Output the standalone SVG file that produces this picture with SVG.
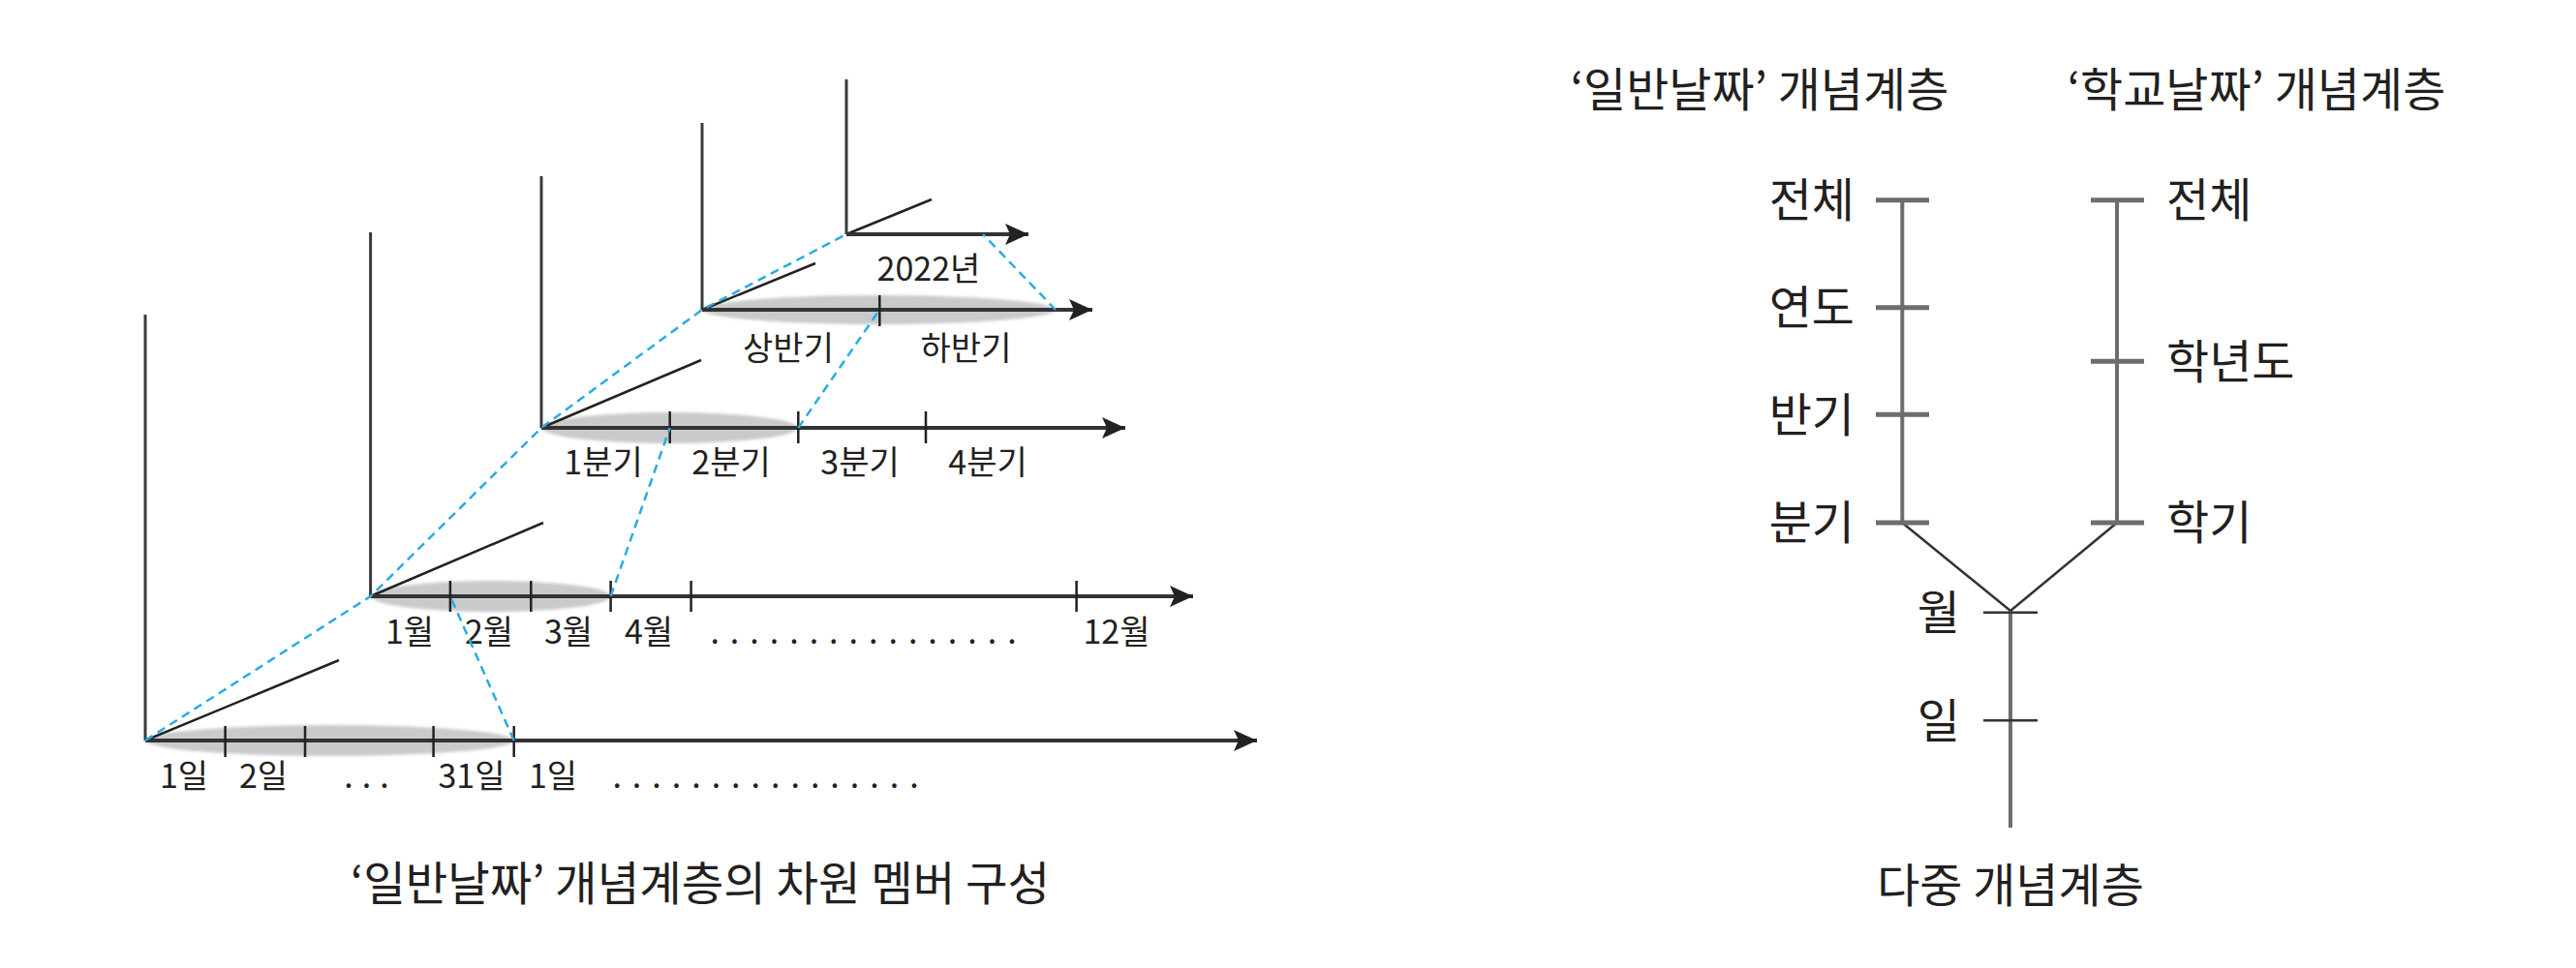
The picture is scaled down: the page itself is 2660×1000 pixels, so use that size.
<svg xmlns="http://www.w3.org/2000/svg" width="2660" height="1000" viewBox="0 0 2660 1000">
<defs>
<style>
.t{font-family:"Noto Sans CJK KR","Noto Sans",sans-serif;fill:#231f20}
.s{font-size:34px;text-anchor:middle}
.b{font-size:48px}
.vert{stroke:#3a3a3a;stroke-width:3;fill:none}
.axis{stroke:#333;stroke-width:4;fill:none}
.diag{stroke:#222;stroke-width:2.5;fill:none}
.tick{stroke:#222;stroke-width:2.5;fill:none}
.dash{stroke:#29abe2;stroke-width:2.5;stroke-dasharray:9 6;fill:none}
.ell{fill:#c9cacc;filter:url(#blur)}
.tv{stroke:#6d6d6d;stroke-width:4;fill:none}
.tt{stroke:#6d6d6d;stroke-width:5;fill:none}
.tb{stroke:#333;stroke-width:2.5;fill:none}
</style>
<filter id="blur" x="-10%" y="-50%" width="120%" height="200%"><feGaussianBlur stdDeviation="1.6"/></filter>
<marker id="arr" markerUnits="userSpaceOnUse" markerWidth="26" markerHeight="24" refX="24" refY="12" orient="auto"><path d="M0,1 L24,12 L0,23 L5,12 Z" fill="#222"/></marker>
</defs>

<g id="left-diagram">
<g id="ellipses">
<ellipse class="ell" cx="340.5" cy="765" rx="190.5" ry="16"/>
<ellipse class="ell" cx="507" cy="616" rx="124" ry="16"/>
<ellipse class="ell" cx="691.5" cy="442" rx="132.5" ry="16"/>
<ellipse class="ell" cx="907.5" cy="320" rx="182.5" ry="15"/>
</g>

<g id="level-day">
<line class="vert" x1="150" y1="325" x2="150" y2="765"/>
<line class="diag" x1="150" y1="765" x2="350" y2="682"/>
<line class="axis" x1="150" y1="765" x2="1298" y2="765" marker-end="url(#arr)"/>
<path class="tick" d="M232.6,750V782M315,750V782M447.6,750V782M530.7,750V782"/>
<text class="t s" x="190" y="814">1일</text>
<text class="t s" x="272" y="814">2일</text>
<text class="t s" x="383" y="814" letter-spacing="9">...</text>
<text class="t s" x="487" y="814">31일</text>
<text class="t s" x="571" y="814">1일</text>
<text class="t s" x="796" y="814" letter-spacing="11">................</text>
</g>

<g id="level-month">
<line class="vert" x1="382.6" y1="240" x2="382.6" y2="616"/>
<line class="diag" x1="382.6" y1="616" x2="561" y2="540"/>
<line class="axis" x1="382.6" y1="616" x2="1232" y2="616" marker-end="url(#arr)"/>
<path class="tick" d="M464.9,600V632M548.3,600V632M630.6,600V632M713.6,600V632M1111.6,600V632"/>
<text class="t s" x="423" y="665">1월</text>
<text class="t s" x="505" y="665">2월</text>
<text class="t s" x="587" y="665">3월</text>
<text class="t s" x="670" y="665">4월</text>
<text class="t s" x="897" y="665" letter-spacing="11">................</text>
<text class="t s" x="1153" y="665">12월</text>
</g>

<g id="level-quarter">
<line class="vert" x1="559" y1="182" x2="559" y2="442"/>
<line class="diag" x1="559" y1="442" x2="724" y2="372"/>
<line class="axis" x1="559" y1="442" x2="1162" y2="442" marker-end="url(#arr)"/>
<path class="tick" d="M691.7,425V458M824.3,425V458M956,425V458"/>
<text class="t s" x="623" y="490">1분기</text>
<text class="t s" x="755" y="490">2분기</text>
<text class="t s" x="888" y="490">3분기</text>
<text class="t s" x="1020" y="490">4분기</text>
</g>

<g id="level-half">
<line class="vert" x1="725" y1="127" x2="725" y2="320"/>
<line class="diag" x1="725" y1="320" x2="842" y2="272"/>
<line class="axis" x1="725" y1="320" x2="1128" y2="320" marker-end="url(#arr)"/>
<path class="tick" d="M908.3,305V337"/>
<text class="t s" x="814" y="372">상반기</text>
<text class="t s" x="997.5" y="372">하반기</text>
</g>

<g id="level-year">
<line class="vert" x1="874" y1="82" x2="874" y2="242"/>
<line class="diag" x1="874" y1="242" x2="962" y2="206"/>
<line class="axis" x1="874" y1="242" x2="1062" y2="242" marker-end="url(#arr)"/>
<text class="t s" x="959" y="290">2022년</text>
</g>

<g id="connectors-dashed">
<polyline class="dash" points="150,765 382.6,616 559,442 725,320 874,242"/>
<line class="dash" x1="530.7" y1="765" x2="464.9" y2="616"/>
<line class="dash" x1="630.6" y1="616" x2="691.7" y2="442"/>
<line class="dash" x1="824.3" y1="442" x2="908.3" y2="320"/>
<line class="dash" x1="1090" y1="320" x2="1015" y2="242"/>
</g>

<text id="caption-left" class="t b" x="723" y="930" text-anchor="middle" textLength="722" lengthAdjust="spacingAndGlyphs">‘일반날짜’ 개념계층의 차원 멤버 구성</text>
</g>

<g id="right-diagram">
<g id="connectors">
<line class="tv" x1="1964.3" y1="206.7" x2="1964.3" y2="540"/>
<line class="tv" x1="2186" y1="206.7" x2="2186" y2="540"/>
<line class="tb" x1="1964.3" y1="540" x2="2076" y2="631"/>
<line class="tb" x1="2186" y1="540" x2="2076" y2="631"/>
<line class="tv" x1="2076" y1="631" x2="2076" y2="855"/>
</g>
<g id="hier-general">
<text class="t b" x="1817" y="110" text-anchor="middle">‘일반날짜’ 개념계층</text>
<g id="g-all"><line class="tt" x1="1937" y1="206.7" x2="1992" y2="206.7"/><text class="t b" x="1915" y="224" text-anchor="end">전체</text></g>
<g id="g-year"><line class="tt" x1="1937" y1="317.7" x2="1992" y2="317.7"/><text class="t b" x="1915" y="335" text-anchor="end">연도</text></g>
<g id="g-half"><line class="tt" x1="1937" y1="428.3" x2="1992" y2="428.3"/><text class="t b" x="1915" y="446" text-anchor="end">반기</text></g>
<g id="g-quarter"><line class="tt" x1="1937" y1="540" x2="1992" y2="540"/><text class="t b" x="1915" y="557" text-anchor="end">분기</text></g>
</g>
<g id="hier-school">
<text class="t b" x="2330" y="110" text-anchor="middle">‘학교날짜’ 개념계층</text>
<g id="s-all"><line class="tt" x1="2159" y1="206.7" x2="2214" y2="206.7"/><text class="t b" x="2237" y="224">전체</text></g>
<g id="s-year"><line class="tt" x1="2159" y1="373.3" x2="2214" y2="373.3"/><text class="t b" x="2237" y="391">학년도</text></g>
<g id="s-term"><line class="tt" x1="2159" y1="540" x2="2214" y2="540"/><text class="t b" x="2237" y="557">학기</text></g>
</g>
<g id="common">
<g id="c-month"><line class="tb" x1="2048" y1="632.7" x2="2104" y2="632.7"/><text class="t b" x="2024" y="650" text-anchor="end">월</text></g>
<g id="c-day"><line class="tb" x1="2048" y1="744.3" x2="2104" y2="744.3"/><text class="t b" x="2024" y="762" text-anchor="end">일</text></g>
</g>
<text id="caption-right" class="t b" x="2076" y="932" text-anchor="middle">다중 개념계층</text>
</g>
</svg>
